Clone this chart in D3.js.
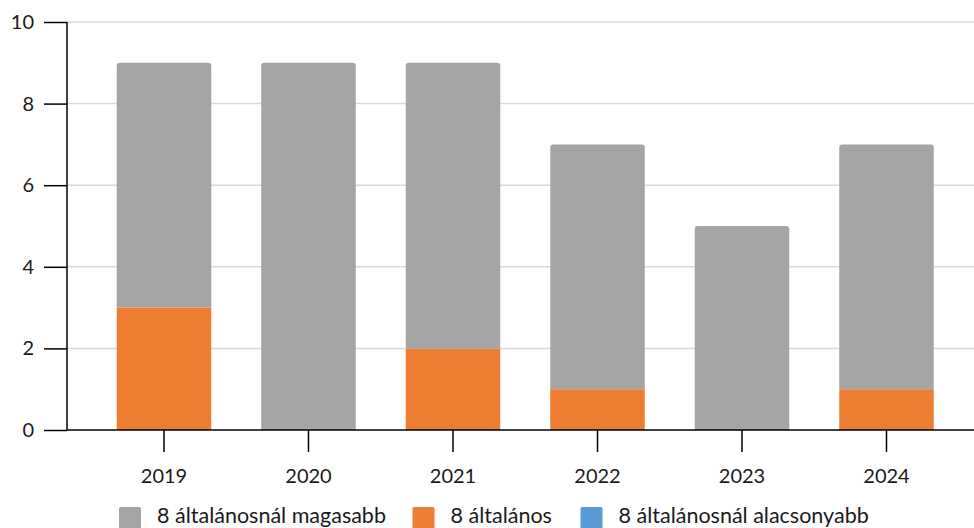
<!DOCTYPE html>
<html><head><meta charset="utf-8">
<script src="https://cdn.jsdelivr.net/npm/d3@7"></script>
<style>
html,body{margin:0;padding:0;background:#fff;}
svg{display:block;font-family:Lato,"Open Sans",sans-serif;}
</style></head>
<body>
<svg id="chart" width="974" height="528"></svg>
<script>
const years = ["2019","2020","2021","2022","2023","2024"];
const seriesNames = ["8 általánosnál magasabb","8 általános","8 általánosnál alacsonyabb"];
const higher = [6, 9, 7, 6, 5, 6];
const general8 = [3, 0, 2, 1, 0, 1];
const lower = [0, 0, 0, 0, 0, 0];
const yTicks = [0, 2, 4, 6, 8, 10];
const colors = ["#A5A5A5", "#ED7D31", "#5B9BD5"];

const svg = d3.select("#chart");
const x = d3.scaleBand().domain(years).range([91.75, 958.75]).paddingInner(0.346).paddingOuter(0.173);
const y = d3.scaleLinear().domain([0, 10]).range([430, 22]);

// gridlines
svg.append("g").selectAll("line").data(yTicks.filter(d => d > 0)).join("line")
  .attr("x1", 67).attr("x2", 974)
  .attr("y1", d => y(d)).attr("y2", d => y(d))
  .attr("stroke", "#d9d9d9").attr("stroke-width", 1.5);

// stacked data: order bottom to top: lower, general8, higher
const rows = years.map((yr, i) => ({year: yr, lower: lower[i], general8: general8[i], higher: higher[i]}));
const stack = d3.stack().keys(["lower", "general8", "higher"])(rows);
const colorByKey = {lower: colors[2], general8: colors[1], higher: colors[0]};

function barPath(x0, x1, yTop, yBot, r) {
  r = Math.min(r, (yBot - yTop));
  return `M${x0},${yBot}V${yTop + r}Q${x0},${yTop} ${x0 + r},${yTop}H${x1 - r}Q${x1},${yTop} ${x1},${yTop + r}V${yBot}Z`;
}

const barsG = svg.append("g");
stack.forEach(layer => {
  barsG.append("g").attr("fill", colorByKey[layer.key]).selectAll("path")
    .data(layer.filter(d => d[1] - d[0] > 0)).join("path")
    .attr("d", d => {
      const x0 = x(d.data.year), x1 = x0 + x.bandwidth();
      const isTop = d[1] === d.data.lower + d.data.general8 + d.data.higher;
      return barPath(x0, x1, y(d[1]), y(d[0]), isTop ? 3 : 0);
    });
});

// y axis
const yAxis = d3.axisLeft(y).tickValues(yTicks).tickSize(23).tickPadding(8).tickFormat(d3.format("d"));
const yg = svg.append("g").attr("transform", "translate(67,0)").call(yAxis);
yg.select(".domain").attr("stroke", "#000").attr("stroke-width", 1.5).attr("d", `M0,${y(10)}V${y(0)}`);
yg.selectAll(".tick line").attr("stroke", "#000").attr("stroke-width", 1.5);
yg.selectAll(".tick text").attr("font-size", 20).attr("fill", "#1a1a1a").attr("font-family", "Lato,'Open Sans',sans-serif").attr("x", -23 - 10);

// x axis
svg.append("line").attr("x1", 67).attr("x2", 974).attr("y1", y(0)).attr("y2", y(0))
  .attr("stroke", "#000").attr("stroke-width", 1.5);
const xAxis = d3.axisBottom(x).tickSize(22).tickPadding(17);
const xg = svg.append("g").attr("transform", `translate(0,${y(0)})`).call(xAxis);
xg.select(".domain").remove();
xg.selectAll(".tick line").attr("stroke", "#000").attr("stroke-width", 1.5);
xg.selectAll(".tick text").attr("font-size", 20).attr("fill", "#1a1a1a").attr("font-family", "Lato,'Open Sans',sans-serif");

// legend
const legendX = [119, 412.5, 580.5];
const lg = svg.append("g");
seriesNames.forEach((name, i) => {
  const g = lg.append("g").attr("transform", `translate(${legendX[i]},507)`);
  g.append("rect").attr("width", 22).attr("height", 22).attr("rx", 1.5).attr("fill", colors[i]);
  g.append("text").attr("x", 38).attr("y", 16)
    .attr("font-size", 21.5).attr("fill", "#1a1a1a").text(name);
});
</script>
</body></html>
